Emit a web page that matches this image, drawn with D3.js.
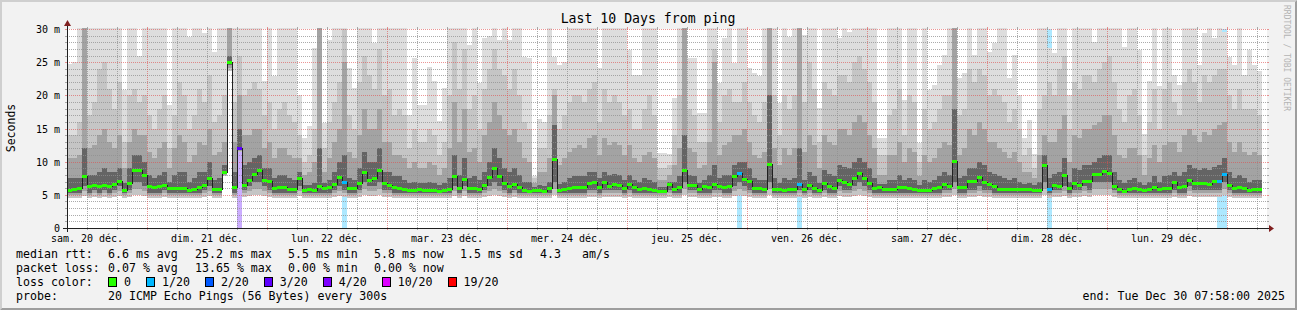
<!DOCTYPE html>
<html><head><meta charset="utf-8">
<script src="https://cdn.jsdelivr.net/npm/d3@7"></script>
<style>body{margin:0;background:#f2f2f2}svg{display:block}text{font-family:"DejaVu Sans Mono",monospace;fill:#000}</style>
</head><body><svg id="c" width="1297" height="310"></svg>
<script>
// ---------- DATA (hourly columns, 20 Dec 08:00 -> 30 Dec 07:00) ----------
const median = [5.6,5.85,6.0,7.8,6.2,6.4,6.2,6.4,6.25,6.6,7.05,5.7,6.75,8.65,8.7,7.9,6.25,6.1,6.25,6.45,5.9,5.9,6.0,6.0,5.7,5.85,6.05,6.4,7.45,5.75,5.75,8.3,24.9,6.1,11.95,6.4,7.1,8.1,8.7,7.2,6.95,5.9,6.15,6.05,5.8,5.8,7.4,5.6,
5.75,5.65,6.25,5.95,6.05,6.6,7.6,6.8,6.0,5.9,6.75,8.3,7.2,7.45,8.65,6.7,6.45,6.05,6.0,5.75,5.7,5.7,5.85,5.65,5.65,5.65,5.45,5.65,5.75,7.7,6.0,7.25,5.9,5.9,5.8,6.35,7.55,9.0,7.8,6.7,6.25,6.55,6.15,5.65,5.45,5.65,5.65,5.45,
5.95,10.4,5.6,5.75,5.9,6.15,6.15,6.1,6.75,6.85,6.15,6.85,6.3,6.55,6.35,5.9,6.55,6.1,5.75,6.0,5.75,5.6,5.45,5.45,6.5,5.8,6.15,8.7,6.4,6.4,5.8,6.2,6.05,6.5,6.3,6.1,6.2,7.8,8.25,7.35,6.95,5.9,6.0,5.75,9.5,5.85,5.8,5.7,
5.8,5.85,6.6,5.75,6.4,6.0,5.65,6.75,6.25,6.0,7.1,6.85,6.55,7.5,8.2,7.5,6.75,5.95,6.05,5.85,5.8,5.8,6.15,6.05,5.9,5.75,5.7,5.7,5.65,5.9,6.15,6.6,6.3,10.1,6.05,6.15,6.95,6.95,7.65,6.9,6.55,6.2,5.85,5.85,5.85,5.85,5.75,5.75,
5.8,5.7,5.7,9.4,5.8,6.45,6.3,7.85,5.9,6.75,6.4,7.05,6.95,8.0,8.1,8.55,8.2,6.3,5.75,5.5,5.75,5.9,5.75,5.65,5.8,6.05,5.75,5.9,5.9,6.85,6.05,6.25,7.1,6.65,6.7,6.7,6.5,6.95,6.95,8.0,6.4,5.95,6.15,5.95,5.65,5.75,5.75];

// smoke: sorted-ping percentiles (ms); 31 = beyond the top of the graph
const p20 = [24.7,25,31,31,31,31,31,31,31,31,31,20.75,31,31,26,31,31,31,31,31,18.6,31,31,31,28.85,31,31,29.35,31,26.6,31,31,31,31,31,31,31,31,31,22.1,31,22.85,31,31,31,31,20.1,13.5,
15.35,27.1,31,15.85,28.35,31,31,31,24.1,21.1,31,31,31,27.85,31,31,31,31,31,31,17.1,25.6,18.6,18.6,24.2,22.1,16.1,21.1,31,31,31,31,27.6,31,21.85,28.6,28.9,31,28.4,31,28.4,31,31,25.85,25.6,7.9,16.5,16,
31,25.85,24.6,25.1,31,31,31,31,31,31,24.1,31,31,31,31,31,26.85,23.1,23.1,31,31,31,11.35,11.35,11.1,19.6,31,31,25.6,25.6,17.35,17.35,31,31,21.85,28.6,31,24.85,31,31,24.1,23.35,22.85,31,31,31,18.85,31,
28.85,31,31,29.1,31,31,18.1,31,31,31,28.6,31,29.6,31,31,31,31,31,13.6,13.6,31,31,31,19.35,31,31,12.85,31,20.85,21.6,24.6,26.1,31,31,22.6,23.35,31,26.1,31,31,26.6,27.85,31,31,22.6,26.1,20.1,13.6,
16.35,11.1,31,31,27.1,26.35,31,31,20.1,31,31,31,31,28.1,31,31,31,31,31,27.35,31,31,26.85,14.1,22.1,31,21.35,31,31,23.1,21.6,31,31,31,24.6,29.35,31,28.6,31,29.6,25.85,24.6,31,23.1,26.85,24.6,23.6];
const p18 = [14,14,16,31,17,19,24,25,21,18,22,13,20,21,19,20,17,15,18,20,12,17,22,20,15,17,21,19,23,16,17,20,31,19,26,20,21,22,21,17,19,15,18,19,17,16,14,10,
11,15,31,12,16,19,22,30,17,15,22,26,23,21,27,20,21,17,18,17,12,15,13,13,15,14,11,13,20,28,21,27,18,20,15,21,24,27,24,23,21,24,20,16,15,7.5,12,12,
17,21,15,17,19,20,20,19,21,22,16,21,19,20,19,17,18,15,15,18,20,17,9,9,9.5,14,20,31,18,17,13,13,21,27,16,20,21,19,19,22,19,17,16,19,31,20,14,20,
18,20,31,19,25,21,13,22,21,20,23,23,22,25,26,24,22,19,11,11,17,18,21,14,20,19,10,18,15,16,18,20,20,31,17,18,24,22,24,23,20,21,20,19,16,18,15,11,
12,9,18,20,22,20,24,26,15,22,21,23,23,22,24,25,26,22,18,16,20,21,17,11,16,21,15,21,22,19,17,22,24,22,19,23,22,23,24,24,20,18,21,18,18,18,17];
const p15 = [10.5,10.5,11,31,12,12.5,14,15,13,12,14,9,13,15,14,14,11.5,10.5,12,13,9,12,14,13,10,11,13,12.5,15,11,11.5,13,31,13,20,14,14,15,15,12,13,10.5,12,12,11,10.5,10.5,8,
8.5,10,31,8.5,10.5,13,15,25,11.5,10.5,14,18,15,15,18,13,13,11,11,10.5,9,10,9,9,10,9.5,8,9,12,19,13,18,11.5,12,10,14,16,19,17,15,14,15,13,10.5,10,6.8,8.5,8.5,
10.5,20,9.5,10.5,11.5,12,12.5,12,13.5,14,11,13.5,12.5,13,12.5,11,12.5,10.5,10,11,11.5,10.5,7.2,7.2,8,9.5,12,31,12,11.5,9,9.5,13,25,11,12.5,13,14,14,15,13,11,10.5,11.5,31,12,9.5,12,
11,12,31,11.5,14,12.5,9,14,13,12.5,15,15,14,16,17,16,14,12,8,8,11,11,13,10,12,11.5,7.8,11,10,10.5,12,13,12.5,31,11,12,15,14,16,15,13,13,12,11.5,10.5,11.5,10,8.5,
8.5,7.5,11,14,13,13,15,17,10,14,13.5,15,15,15.5,16,17,17,14,11,10.5,12,12,11,8,10.5,12.5,10,12.5,13,13,11.5,14,15,14,13,14.5,14,15,15.5,16,13,11.5,13,11.5,11,11.5,11];
const p12 = [7.5,7.5,7.5,12,8,8,8.5,9,8.5,8.5,9,6.8,9,11,11,10,8,7.5,8,8.5,7,8,8.5,8.5,7,7.5,8.5,8.5,10,7.2,7.5,9.5,26,8.5,15,9.5,10,10.5,11,9,9,7.5,8,8,7.5,7.2,8.5,6.5,
6.5,6.8,12,6.8,7.2,8.5,10,11,7.5,7.2,9,11.5,10,10,12,8.5,8.5,7.8,7.8,7.2,6.8,7,6.8,6.8,7,6.8,6.5,6.8,7.5,11,8,10.5,7.5,7.8,7.2,8.5,10,12,10.5,9,8.5,9,8,7,7,6.2,6.5,6.4,
7,15.5,6.6,7,7.5,7.8,7.8,7.8,8.5,8.5,7.5,8.5,8,8.2,8,7.2,8,7.2,7,7.5,7.2,7,6.2,6.2,7,7,7.8,14,8,7.8,6.8,7.2,8,9.5,7.5,8,8,9.5,10,10,9,7.5,7.2,7.2,20,7.5,6.8,7.5,
7.2,7.5,12,7.2,8.5,7.8,6.8,8.8,8.2,7.8,9.5,9.2,9,10,10.5,10,9,7.5,6.7,6.7,7.2,7.2,8,7.2,7.5,7.2,6.5,7.2,7,7.2,7.8,8.5,8,18,7.5,7.8,9,9,10,9.5,8.5,8.2,7.8,7.5,7.2,7.5,7,6.7,
6.8,6.5,7,11,7.5,8.2,8.5,10.5,7,9,8.8,9.5,9.5,10,10.5,11,11,8.5,7.2,6.8,7.2,7.5,7,6.5,7,7.8,7,7.8,8,8.5,7.8,8.5,9.5,9,8.8,9,8.8,9.2,9.5,10.5,8.5,7.5,8,7.5,7,7.2,7.2];
const p8 = [5.35,5.35,5.35,6.3,5.35,5.7,5.35,5.7,5.35,5.7,6.3,5.35,5.7,7,7,6.3,5.35,5.35,5.35,5.7,5.35,5.35,5.35,5.35,5.35,5.35,5.35,5.7,6.3,5.35,5.35,8.1,24.5,5.35,11.8,5.7,6.3,7,7,6.3,5.7,5.35,5.35,5.35,5.35,5.35,6.3,5.35,
5.35,5.35,5.35,5.35,5.35,5.7,6.3,5.7,5.35,5.35,5.7,7,6.3,6.3,7,5.7,5.7,5.35,5.35,5.35,5.35,5.35,5.35,5.35,5.35,5.35,5.35,5.35,5.35,6.3,5.35,6.3,5.35,5.35,5.35,5.7,6.3,7,6.3,5.7,5.35,5.7,5.35,5.35,5.35,5.35,5.35,5.35,
5.35,7,5.35,5.35,5.35,5.35,5.35,5.35,5.7,5.7,5.35,5.7,5.7,5.7,5.7,5.35,5.7,5.35,5.35,5.35,5.35,5.35,5.35,5.35,5.7,5.35,5.35,7,5.7,5.7,5.35,5.35,5.35,5.7,5.7,5.35,5.35,6.3,7,6.3,5.7,5.35,5.35,5.35,7,5.35,5.35,5.35,
5.35,5.35,5.7,5.35,5.7,5.35,5.35,5.7,5.35,5.35,6.3,5.7,5.7,6.3,7,6.3,5.7,5.35,5.35,5.35,5.35,5.35,5.35,5.35,5.35,5.35,5.35,5.35,5.35,5.35,5.35,5.7,5.7,7,5.35,5.35,5.7,5.7,6.3,5.7,5.7,5.35,5.35,5.35,5.35,5.35,5.35,5.35,
5.35,5.35,5.35,7,5.35,5.7,5.7,6.3,5.35,5.7,5.7,6.3,5.7,7,7,7,7,5.7,5.35,5.35,5.35,5.35,5.35,5.35,5.35,5.35,5.35,5.35,5.35,5.7,5.35,5.35,6.3,5.7,5.7,5.7,5.7,5.7,5.7,7,5.7,5.35,5.35,5.35,5.35,5.35,5.35];
const p5 = [5.05,5.05,5.05,5.6,5.05,5.25,5.05,5.25,5.05,5.25,5.6,5.05,5.25,5.9,5.9,5.6,5.05,5.05,5.05,5.25,5.05,5.05,5.05,5.05,5.05,5.05,5.05,5.25,5.6,5.05,5.05,8.0,24.1,5.05,11.6,5.25,5.6,5.9,5.9,5.6,5.25,5.05,5.05,5.05,5.05,5.05,5.6,5.05,
5.05,5.05,5.05,5.05,5.05,5.25,5.6,5.25,5.05,5.05,5.25,5.9,5.6,5.6,5.9,5.25,5.25,5.05,5.05,5.05,5.05,5.05,5.05,5.05,5.05,5.05,5.05,5.05,5.05,5.6,5.05,5.6,5.05,5.05,5.05,5.25,5.6,5.9,5.6,5.25,5.05,5.25,5.05,5.05,5.05,5.05,5.05,5.05,
5.05,5.9,5.05,5.05,5.05,5.05,5.05,5.05,5.25,5.25,5.05,5.25,5.25,5.25,5.25,5.05,5.25,5.05,5.05,5.05,5.05,5.05,5.05,5.05,5.25,5.05,5.05,5.9,5.25,5.25,5.05,5.05,5.05,5.25,5.25,5.05,5.05,5.6,5.9,5.6,5.25,5.05,5.05,5.05,5.9,5.05,5.05,5.05,
5.05,5.05,5.25,5.05,5.25,5.05,5.05,5.25,5.05,5.05,5.6,5.25,5.25,5.6,5.9,5.6,5.25,5.05,5.05,5.05,5.05,5.05,5.05,5.05,5.05,5.05,5.05,5.05,5.05,5.05,5.05,5.25,5.25,5.9,5.05,5.05,5.25,5.25,5.6,5.25,5.25,5.05,5.05,5.05,5.05,5.05,5.05,5.05,
5.05,5.05,5.05,5.9,5.05,5.25,5.25,5.6,5.05,5.25,5.25,5.6,5.25,5.9,5.9,5.9,5.9,5.25,5.05,5.05,5.05,5.05,5.05,5.05,5.05,5.05,5.05,5.05,5.05,5.25,5.05,5.05,5.6,5.25,5.25,5.25,5.25,5.25,5.25,5.9,5.25,5.05,5.05,5.05,5.05,5.05,5.05];
const p1 = [4.55,4.55,4.55,4.85,4.55,4.7,4.55,4.7,4.55,4.7,4.85,4.55,4.7,4.9,4.9,4.85,4.55,4.55,4.55,4.7,4.55,4.55,4.55,4.55,4.55,4.55,4.55,4.7,4.85,4.55,4.55,7.9,23.6,4.55,11.4,4.7,4.85,4.9,4.9,4.85,4.7,4.55,4.55,4.55,4.55,4.55,4.85,4.55,
4.55,4.55,4.55,4.55,4.55,4.7,4.85,4.7,4.55,4.55,4.7,4.9,4.85,4.85,4.9,4.7,4.7,4.55,4.55,4.55,4.55,4.55,4.55,4.55,4.55,4.55,4.55,4.55,4.55,4.85,4.55,4.85,4.55,4.55,4.55,4.7,4.85,4.9,4.85,4.7,4.55,4.7,4.55,4.55,4.55,4.55,4.55,4.55,
4.55,4.9,4.55,4.55,4.55,4.55,4.55,4.55,4.7,4.7,4.55,4.7,4.7,4.7,4.7,4.55,4.7,4.55,4.55,4.55,4.55,4.55,4.55,4.55,4.7,4.55,4.55,4.9,4.7,4.7,4.55,4.55,4.55,4.7,4.7,4.55,4.55,4.85,4.9,4.85,4.7,4.55,4.55,4.55,4.9,4.55,4.55,4.55,
4.55,4.55,4.7,4.55,4.7,4.55,4.55,4.7,4.55,4.55,4.85,4.7,4.7,4.85,4.9,4.85,4.7,4.55,4.55,4.55,4.55,4.55,4.55,4.55,4.55,4.55,4.55,4.55,4.55,4.55,4.55,4.7,4.7,4.9,4.55,4.55,4.7,4.7,4.85,4.7,4.7,4.55,4.55,4.55,4.55,4.55,4.55,4.55,
4.55,4.55,4.55,4.9,4.55,4.7,4.7,4.85,4.55,4.7,4.7,4.85,4.7,4.9,4.9,4.9,4.9,4.7,4.55,4.55,4.55,4.55,4.55,4.55,4.55,4.55,4.55,4.55,4.55,4.7,4.55,4.55,4.85,4.7,4.7,4.7,4.7,4.7,4.7,4.9,4.7,4.55,4.55,4.55,4.55,4.55,4.55];

const lossCols = [34,55,134,146,196,230,231];
const lossVals = [3,1,1,1,1,1,1];          // index into lossLevels
const lossLevels = ["0","1/20","2/20","3/20","4/20","10/20","19/20"];
const lossColors = ["#26ff00","#00b8ff","#0059ff","#5e00ff","#7e00ff","#dd00ff","#ff0000"];

const dayLabels = ["sam. 20 déc.","dim. 21 déc.","lun. 22 déc.","mar. 23 déc.","mer. 24 déc.","jeu. 25 déc.","ven. 26 déc.","sam. 27 déc.","dim. 28 déc.","lun. 29 déc."];
const yTicks = [0,5,10,15,20,25,30];
const yTickLabels = ["0","5 m","10 m","15 m","20 m","25 m","30 m"];
const rttStats = ["6.6 ms avg","25.2 ms max","5.5 ms min","5.8 ms now","1.5 ms sd","4.3","am/s"];
const lossStats = ["0.07 % avg","13.65 % max","0.00 % min","0.00 % now"];

// ---------- LAYOUT ----------
const W=1297,H=310, X0=67, X1=1267, Y0=228, Y1=29;
const t0 = new Date(Date.UTC(2025,11,20,8,0,0));
const t1 = new Date(Date.UTC(2025,11,30,8,0,0));
const x = d3.scaleUtc().domain([t0,t1]).range([X0,X1]);
const y = d3.scaleLinear().domain([0,30]).range([Y0,Y1]);
const colT = i => d3.utcHour.offset(t0,i);
const n = median.length;
const cols = d3.range(n);

const svg = d3.select("#c");
svg.append("rect").attr("width",W).attr("height",H).attr("fill","#f2f2f2");
svg.append("polygon").attr("points",`0,0 ${W},0 ${W-2},2 2,2 2,${H-2} 0,${H}`).attr("fill","#cfcfcf");
svg.append("polygon").attr("points",`${W},0 ${W},${H} 0,${H} 2,${H-2} ${W-2},${H-2} ${W-2},2`).attr("fill","#9e9e9e");
svg.append("rect").attr("x",X0).attr("y",Y1).attr("width",X1-X0).attr("height",Y0-Y1).attr("fill","#fff");

const plot = svg.append("g").attr("shape-rendering","crispEdges");
const cx = i => Math.round(x(colT(i)));
const cw = i => Math.round(x(colT(i+1))) - Math.round(x(colT(i)));
const cy = v => y(Math.min(v,30.2));

// loss background bars
const lossG = plot.append("g");
lossCols.forEach((c,j)=>{
  lossG.append("rect").attr("x",cx(c)).attr("width",cw(c)).attr("y",y(30)).attr("height",y(0)-y(30))
    .attr("fill",lossColors[lossVals[j]]).attr("fill-opacity",0.32);
});

// smoke bands
const bands = [
  {lo:p1, hi:p20, color:"#dddddd"},
  {lo:p1, hi:p18, color:"#c5c5c5"},
  {lo:p5, hi:p15, color:"#a3a3a3"},
  {lo:p8, hi:p12, color:"#646464"}
];
bands.forEach(b=>{
  plot.append("g").selectAll("rect").data(cols).join("rect")
    .attr("x",cx).attr("width",cw)
    .attr("y",i=>cy(b.hi[i])).attr("height",i=>Math.max(0,cy(b.lo[i])-cy(b.hi[i])))
    .attr("fill",b.color);
});

// grid
const grid = svg.append("g").attr("shape-rendering","crispEdges");
const gridCol="rgba(143,143,143,0.75)", mgridCol="rgba(222,79,79,0.6)";
d3.range(0,31).forEach(v=>{
  const major = v%5===0; const yy = Math.round(y(v))+0.5;
  const c = major?mgridCol:gridCol;
  if(v>0) grid.append("line").attr("x1",X0).attr("x2",X1).attr("y1",yy).attr("y2",yy).attr("stroke",c).attr("stroke-dasharray","1,1");
  grid.append("line").attr("x1",X0-2).attr("x2",X0).attr("y1",yy).attr("y2",yy).attr("stroke",c);
  grid.append("line").attr("x1",X1).attr("x2",X1+2).attr("y1",yy).attr("y2",yy).attr("stroke",c);
});
d3.utcHour.every(6).range(t0,t1).forEach(t=>{
  const major = t.getUTCHours()===0; const xx = Math.round(x(t))+0.5;
  if(xx<X0+1) return;
  const c = major?mgridCol:gridCol;
  grid.append("line").attr("x1",xx).attr("x2",xx).attr("y1",Y1).attr("y2",Y0).attr("stroke",c).attr("stroke-dasharray","1,1");
  grid.append("line").attr("x1",xx).attr("x2",xx).attr("y1",Y0).attr("y2",Y0+2).attr("stroke",c);
  grid.append("line").attr("x1",xx).attr("x2",xx).attr("y1",Y1-2).attr("y2",Y1).attr("stroke",c);
});

// median: thin dark step line + loss-coloured bands
const pts = cols.map(i=>[cx(i),y(median[i])]);
pts.push([cx(n-1)+cw(n-1), y(median[n-1])]);
svg.append("path").attr("d",d3.line().curve(d3.curveStepAfter)(pts))
  .attr("fill","none").attr("stroke","#202020").attr("stroke-width",1).attr("shape-rendering","crispEdges");
const lossOf = i => { const j = lossCols.indexOf(i); return j<0?0:lossVals[j]; };
svg.append("g").attr("shape-rendering","crispEdges").selectAll("rect").data(cols).join("rect")
  .attr("x",cx).attr("width",cw).attr("y",i=>Math.round(y(median[i])-1.5)).attr("height",3)
  .attr("fill",i=>lossColors[lossOf(i)]);

// axes
svg.append("line").attr("x1",X0-4).attr("x2",X1+2).attr("y1",Y0+0.5).attr("y2",Y0+0.5).attr("stroke","#1f1f1f").attr("shape-rendering","crispEdges");
svg.append("line").attr("x1",X0+0.5).attr("x2",X0+0.5).attr("y1",Y0+4).attr("y2",Y1-3).attr("stroke","#1f1f1f").attr("shape-rendering","crispEdges");
svg.append("polygon").attr("points",`${X1+2},${Y0-3} ${X1+2},${Y0+4} ${X1+7},${Y0+0.5}`).attr("fill","#801f1f");
svg.append("polygon").attr("points",`${X0-3},${Y1-3} ${X0+4},${Y1-3} ${X0+0.5},${Y1-9}`).attr("fill","#801f1f");

// tick labels
svg.append("g").selectAll("text").data(yTicks).join("text")
  .attr("x",60).attr("y",v=>y(v)+4).attr("text-anchor","end").attr("font-size","10px")
  .text((v,i)=>yTickLabels[i]);
svg.append("g").selectAll("text").data(dayLabels).join("text")
  .attr("x",(d,i)=>x(d3.utcHour.offset(t0,4+24*i))).attr("y",242).attr("text-anchor","middle").attr("font-size","10px")
  .text(d=>d);

// titles
svg.append("text").attr("x",648).attr("y",23).attr("text-anchor","middle").attr("font-size","13.2px").text("Last 10 Days from ping");
svg.append("text").attr("transform","translate(15,128) rotate(-90)").attr("text-anchor","middle").attr("font-size","11.5px").text("Seconds");
svg.append("text").attr("transform","translate(1284,5) rotate(90)").attr("text-anchor","start").attr("font-size","8px")
  .style("fill","#b4b4b4").text("RRDTOOL / TOBI OETIKER");

// legend
const fs="11.6px";
const L = svg.append("g").attr("font-size",fs);
L.append("text").attr("x",16).attr("y",258).text("median rtt:");
const rttX=[108,195,288,374,460,540,582];
rttStats.forEach((s,i)=>L.append("text").attr("x",rttX[i]).attr("y",258).text(s));
L.append("text").attr("x",16).attr("y",272).text("packet loss:");
const lossX=[108,195,288,374];
lossStats.forEach((s,i)=>L.append("text").attr("x",lossX[i]).attr("y",272).text(s));
L.append("text").attr("x",16).attr("y",286).text("loss color:");
let lx=108;
lossLevels.forEach((s,i)=>{
  L.append("rect").attr("x",lx+0.5).attr("y",277.5).attr("width",8).attr("height",9).attr("fill",lossColors[i]).attr("stroke","#000").attr("stroke-width",1).attr("shape-rendering","crispEdges");
  L.append("text").attr("x",lx+16).attr("y",286).text(s);
  lx += 16 + s.length*6.98 + 15;
});
L.append("text").attr("x",16).attr("y",300).text("probe:");
L.append("text").attr("x",108).attr("y",300).text("20 ICMP Echo Pings (56 Bytes) every 300s");
L.append("text").attr("x",1285).attr("y",300).attr("text-anchor","end").text("end: Tue Dec 30 07:58:00 2025");
</script></body></html>
